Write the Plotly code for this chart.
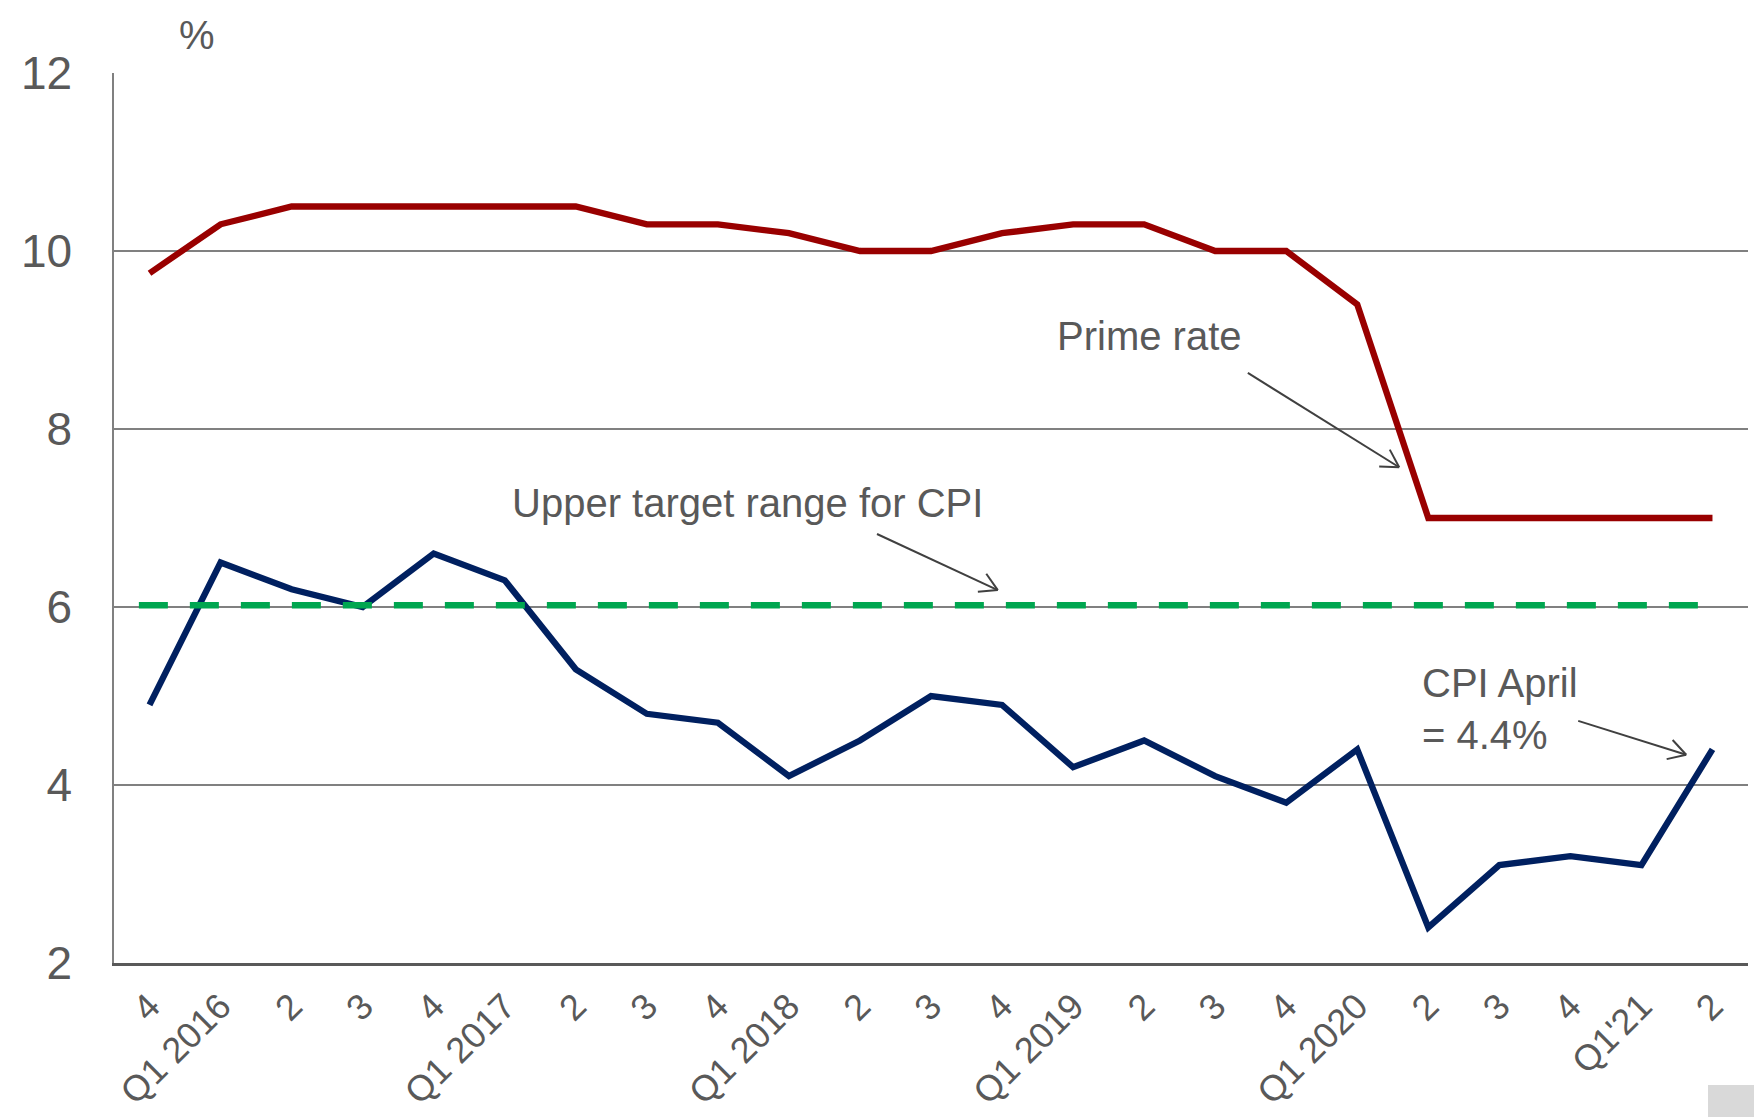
import math
import plotly.graph_objects as go

# ---------------- data ----------------
quarters = ["4", "Q1 2016", "2", "3", "4", "Q1 2017", "2", "3", "4", "Q1 2018",
            "2", "3", "4", "Q1 2019", "2", "3", "4", "Q1 2020", "2", "3", "4",
            "Q1'21", "2"]
prime_rate = [9.75, 10.3, 10.5, 10.5, 10.5, 10.5, 10.5, 10.3, 10.3, 10.2,
              10.0, 10.0, 10.2, 10.3, 10.3, 10.0, 10.0, 9.4, 7.0, 7.0, 7.0,
              7.0, 7.0]
cpi = [4.9, 6.5, 6.2, 6.0, 6.6, 6.3, 5.3, 4.8, 4.7, 4.1, 4.5, 5.0, 4.9, 4.2,
       4.5, 4.1, 3.8, 4.4, 2.4, 3.1, 3.2, 3.1, 4.4]
upper_target = 6.0
y_ticks = [2, 4, 6, 8, 10, 12]

# ---------------- layout constants ----------------
W, H = 1754, 1117
M_L, M_R, M_T, M_B = 114, 6, 73, 154
X_RANGE = [-0.5, len(quarters) - 0.5]
Y_RANGE = [2, 12]
PW = W - M_L - M_R
PH = H - M_T - M_B
PX_PER_X = PW / (X_RANGE[1] - X_RANGE[0])
PX_PER_Y = PH / (Y_RANGE[1] - Y_RANGE[0])

FONT = "Liberation Sans, Arial, sans-serif"
TXT = "#595959"
RED = "#990000"
NAVY = "#002060"
GREEN = "#00A650"
ARROW = "#404040"

xs = list(range(len(quarters)))

fig = go.Figure()
fig.add_trace(go.Scatter(x=xs, y=cpi, mode="lines",
                         line=dict(color=NAVY, width=6.3), hoverinfo="skip"))
fig.add_trace(go.Scatter(x=xs, y=prime_rate, mode="lines",
                         line=dict(color=RED, width=6.3), hoverinfo="skip"))

shapes = []
# upper target line
shapes.append(dict(type="line", xref="x", yref="y", x0=-0.15, x1=len(quarters) - 0.95,
                   y0=upper_target + 0.02, y1=upper_target + 0.02,
                   line=dict(color=GREEN, width=6.5, dash="29px,22px"), layer="above"))


def arrow(x0, y0, x1, y1, head=20, ang=30):
    """open-chevron arrow from (x0,y0) to (x1,y1) in data coords"""
    out = [dict(type="line", xref="x", yref="y", x0=x0, y0=y0, x1=x1, y1=y1,
                line=dict(color=ARROW, width=2))]
    dxp = (x1 - x0) * PX_PER_X
    dyp = (y1 - y0) * PX_PER_Y
    th = math.atan2(dyp, dxp)
    for s in (-1, 1):
        a = th + math.pi + s * math.radians(ang)
        ex = x1 + head * math.cos(a) / PX_PER_X
        ey = y1 + head * math.sin(a) / PX_PER_Y
        out.append(dict(type="line", xref="x", yref="y", x0=x1, y0=y1, x1=ex, y1=ey,
                        line=dict(color=ARROW, width=2)))
    return out


shapes += arrow(15.46, 8.63, 17.59, 7.57)
shapes += arrow(10.24, 6.82, 11.94, 6.19)
shapes += arrow(20.11, 4.72, 21.63, 4.34)

# grey box bottom-right
shapes.append(dict(type="rect", xref="paper", yref="paper",
                   x0=(1708 - M_L) / PW, x1=(1754 - M_L) / PW,
                   y0=-(1117 - (H - M_B)) / PH, y1=-(1085 - (H - M_B)) / PH,
                   fillcolor="#D9D9D9", line=dict(width=0), layer="above"))

annotations = [
    dict(text="Prime rate", x=14.07, y=9.04, xref="x", yref="y", showarrow=False,
         xanchor="center", yanchor="middle", font=dict(size=40, color=TXT, family=FONT)),
    dict(text="Upper target range for CPI", x=8.42, y=7.17, xref="x", yref="y",
         showarrow=False, xanchor="center", yanchor="middle",
         font=dict(size=40, color=TXT, family=FONT)),
    dict(text="CPI April<br>= 4.4%", x=17.88, y=4.85, xref="x", yref="y",
         showarrow=False, xanchor="left", yanchor="middle", align="left",
         font=dict(size=40, color=TXT, family=FONT)),
    dict(text="%", x=(197 - M_L) / PW, y=(H - M_B - 35) / PH, xref="paper", yref="paper",
         showarrow=False, xanchor="center", yanchor="middle",
         font=dict(size=40, color=TXT, family=FONT)),
]

fig.update_layout(
    width=W, height=H,
    margin=dict(l=M_L, r=M_R, t=M_T, b=M_B, pad=0, autoexpand=False),
    paper_bgcolor="white", plot_bgcolor="white",
    showlegend=False,
    shapes=shapes,
    annotations=annotations,
    font=dict(family=FONT, color=TXT),
)
fig.update_xaxes(
    automargin=False,
    range=X_RANGE, tickmode="array", tickvals=xs, ticktext=quarters,
    tickangle=-45, showgrid=False, zeroline=False,
    showline=True, linecolor="#595959", linewidth=2.5,
    ticks="", ticklabelstandoff=5,
    tickfont=dict(size=36, color=TXT, family=FONT),
)
fig.update_yaxes(
    automargin=False,
    range=Y_RANGE, tickmode="array", tickvals=y_ticks,
    showgrid=True, gridcolor="#808080", gridwidth=1.5, zeroline=False,
    showline=True, linecolor="#808080", linewidth=1.5,
    ticks="", ticklabelstandoff=31,
    tickfont=dict(size=46, color=TXT, family=FONT),
)

fig.write_html("out.html", config={"displayModeBar": False},
               post_script="document.body.style.margin='0';document.body.style.overflow='hidden';")
